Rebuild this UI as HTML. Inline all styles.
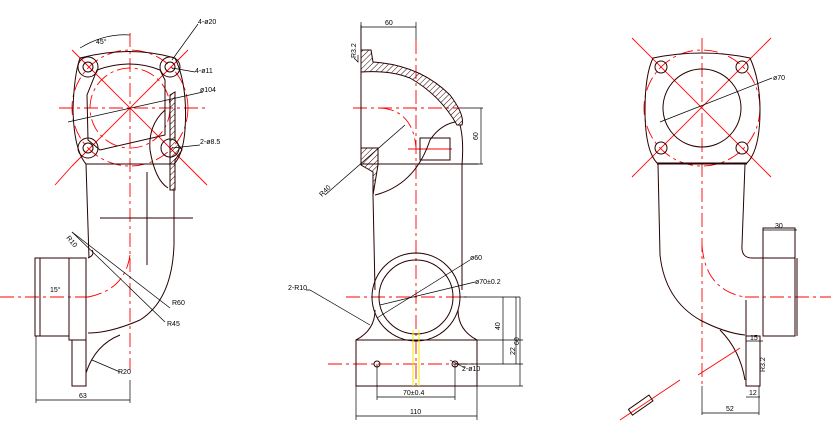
<!DOCTYPE html>
<html><head><meta charset="utf-8"><style>
html,body{margin:0;padding:0;background:#fff;width:831px;height:434px;overflow:hidden}
svg{display:block}
text{font-family:"Liberation Sans",sans-serif;font-size:7px;fill:#000}
.k{stroke:#2a0000;fill:none;stroke-width:1}
.d{stroke:#000;fill:none;stroke-width:0.7}
.r{stroke:#f00;fill:none;stroke-width:0.9;stroke-dasharray:14 4 3 4}
.rs{stroke:#f00;fill:none;stroke-width:0.9}
.h{stroke:#2a0000;fill:url(#hat);stroke-width:1}
</style></head><body>
<svg width="831" height="434" viewBox="0 0 831 434">
<defs><pattern id="hat" width="4" height="4" patternUnits="userSpaceOnUse" patternTransform="rotate(45)"><line x1="0" y1="0" x2="0" y2="4" stroke="#2a0000" stroke-width="1"/></pattern></defs>

<!-- LEFT VIEW -->
<line class="r" x1="130" y1="33" x2="130" y2="370"/>
<line class="r" x1="59" y1="108" x2="207" y2="108"/>
<line class="r" x1="0" y1="297" x2="90" y2="297"/>
<line class="rs" x1="72" y1="50" x2="188" y2="166"/>
<line class="rs" x1="188" y1="50" x2="72" y2="166"/>
<line class="rs" x1="55" y1="185" x2="72" y2="166"/>
<line class="rs" x1="188" y1="166" x2="207" y2="185"/>
<circle class="r" cx="130" cy="108" r="40"/>
<circle class="r" cx="130" cy="108" r="58"/>
<path class="k" d="M80,58 Q130,45 175,58 Q188,85 185,130 Q183,155 174,164 L86,164 Q74,150 73,110 Q74,75 80,58 Z"/>
<path class="k" d="M97,70 Q130,58 160,70 L165,80 L165,135 L100,150 L88,140 L87,95 Z"/>
<circle class="k" cx="88" cy="67" r="10"/><circle class="k" cx="88" cy="67" r="5"/>
<circle class="k" cx="170" cy="67" r="10"/><circle class="k" cx="170" cy="67" r="5"/>
<circle class="k" cx="88" cy="148" r="10"/><circle class="k" cx="88" cy="148" r="5"/>
<circle class="k" cx="170" cy="148" r="9"/>
<path class="h" d="M170,95 L175,92 L175,140 L182,150 L175,160 L175,190 L170,190 Z"/>
<path class="k" d="M165,110 Q148,125 150,150 Q155,180 168,188"/>
<path class="k" d="M86,164 L89,258 M174,190 L174,245 Q172,300 140,320 Q110,333 88,333"/>
<path class="k" d="M88,258 Q95,255 92,250"/>
<line class="k" x1="100" y1="218" x2="193" y2="218"/>
<line class="k" x1="147" y1="172" x2="147" y2="265"/>
<rect class="k" x="35" y="258" width="34" height="78"/>
<line class="k" x1="40" y1="258" x2="40" y2="336"/>
<rect class="k" x="69" y="258" width="17" height="82"/>
<rect class="k" x="72" y="340" width="14" height="46"/>
<path class="k" d="M86,373 Q95,345 120,335"/>
<path class="r" d="M88,297 Q125,290 130,255"/>
<path class="d" d="M36,400 L130,400 M36,336 L36,403 M130,380 L130,403"/>
<text x="79" y="398">63</text>
<path class="d" d="M80,48 Q105,33 130,35"/><text x="96" y="44">45°</text>
<line class="d" x1="68" y1="122" x2="203" y2="92"/><text x="200" y="92">ø104</text>
<line class="d" x1="172" y1="60" x2="198" y2="24"/><text x="198" y="24">4-ø20</text>
<line class="d" x1="172" y1="68" x2="195" y2="72"/><text x="195" y="73">4-ø11</text>
<line class="d" x1="172" y1="148" x2="200" y2="145"/><text x="200" y="144">2-ø8.5</text>
<line class="d" x1="72" y1="232" x2="170" y2="308"/><text x="172" y="305">R60</text>
<line class="d" x1="72" y1="232" x2="165" y2="322"/><text x="167" y="326">R45</text>
<line class="d" x1="92" y1="360" x2="120" y2="372"/><text x="118" y="374">R20</text>
<text x="66" y="238" transform="rotate(50 66 238)">R10</text>
<text x="50" y="292">15°</text>

<!-- MIDDLE VIEW -->
<line class="r" x1="416" y1="40" x2="416" y2="385"/>
<line class="r" x1="353" y1="108" x2="460" y2="108"/>
<line class="r" x1="346" y1="297" x2="470" y2="297"/>
<line class="r" x1="328" y1="364" x2="475" y2="364"/>
<line class="rs" x1="408" y1="149" x2="452" y2="149"/>
<path class="r" d="M380,108 Q413,110 416,148"/>
<path class="h" d="M361,50 L371,50 L373,62 Q420,65 450,95 Q465,115 462,125 L457,125 Q440,95 410,78 Q390,70 361,72 Z"/>
<path class="k" d="M361,25 L361,165 M460,125 Q464,140 462,165 L462,290 M373,195 L375,290"/>
<path class="h" d="M361,148 L378,148 L378,165 L373,195 L373,172 L361,165 Z"/>
<line class="k" x1="361" y1="164" x2="478" y2="164"/>
<rect class="k" x="420" y="138" width="30" height="22"/>
<path class="k" d="M455,122 Q440,125 430,140 Q415,185 375,195"/>
<circle class="k" cx="416" cy="297" r="44"/><circle class="k" cx="416" cy="297" r="37"/>
<path class="k" d="M375,310 Q375,330 356,340 M458,310 Q458,330 477,340"/>
<rect class="k" x="356" y="340" width="121" height="46"/>
<line style="stroke:#ee0;stroke-width:1" x1="413" y1="330" x2="413" y2="386"/>
<line style="stroke:#ee0;stroke-width:1" x1="419" y1="330" x2="419" y2="386"/>
<circle class="k" cx="377" cy="364" r="3"/><circle class="k" cx="455" cy="364" r="3"/>
<path class="d" d="M361,27 L416,27 M361,22 L361,30 M416,22 L416,40"/><text x="385" y="25">60</text>
<path class="d" d="M460,108 L483,108 M462,164 L483,164 M481,108 L481,164"/><text x="478" y="140" transform="rotate(-90 478 140)">60</text>
<path class="d" d="M377,364 L377,400 M455,364 L455,400 M377,397 L455,397"/><text x="403" y="395">70±0.4</text>
<path class="d" d="M356,386 L356,420 M477,386 L477,420 M356,416 L477,416"/><text x="410" y="414">110</text>
<path class="d" d="M460,297 L520,297 M477,340 L523,340 M455,364 L523,364 M477,386 L523,386 M503,297 L503,364 M520,297 L520,386 M516,364 L516,297"/>
<text x="500" y="330" transform="rotate(-90 500 330)">40</text>
<text x="515" y="355" transform="rotate(-90 515 355)">22</text>
<text x="519" y="345" transform="rotate(-90 519 345)">60</text>
<line class="d" x1="377" y1="318" x2="470" y2="260"/><text x="470" y="260">ø60</text>
<line class="d" x1="380" y1="305" x2="475" y2="282"/><text x="475" y="284">ø70±0.2</text>
<path class="d" d="M306,290 L310,290 L370,325"/><text x="288" y="290">2-R10</text>
<line class="d" x1="325" y1="195" x2="405" y2="125"/><text x="322" y="197" transform="rotate(-45 322 197)">R40</text>
<line class="d" x1="450" y1="360" x2="465" y2="368"/><text x="462" y="371">2-ø10</text>
<text transform="translate(356,58) rotate(-90)">R3.2</text>
<path class="d" d="M354,58 L358,62 L358,55"/>

<!-- RIGHT VIEW -->
<line class="r" x1="702" y1="38" x2="702" y2="385"/>
<line class="r" x1="745" y1="297" x2="831" y2="297"/>
<line class="rs" x1="632" y1="38" x2="771" y2="177"/>
<line class="rs" x1="771" y1="38" x2="632" y2="177"/>
<circle class="r" cx="702" cy="108" r="58"/>
<path class="k" d="M653,58 Q702,48 750,58 Q760,80 760,110 Q760,150 747,163 L657,163 Q645,150 645,110 Q645,75 653,58 Z"/>
<circle class="k" cx="702" cy="108" r="39"/>
<circle class="k" cx="661" cy="67" r="6"/><circle class="k" cx="742" cy="67" r="6"/>
<circle class="k" cx="661" cy="148" r="6"/><circle class="k" cx="742" cy="148" r="6"/>
<line class="k" x1="657" y1="164" x2="747" y2="164"/>
<path class="k" d="M658,164 L660,255 Q665,300 700,320 Q725,333 745,335 M745,164 L742,245 Q741,258 752,258 L795,258"/>
<path class="k" d="M720,330 Q740,350 745,380 M746,300 L746,386"/>
<path class="r" d="M702,245 Q705,290 745,297"/>
<rect class="k" x="763" y="228" width="32" height="108"/>
<line class="k" x1="797" y1="258" x2="797" y2="336"/>
<rect class="k" x="746" y="336" width="14" height="50"/>
<line class="rs" x1="698" y1="375" x2="740" y2="348"/>
<line class="rs" x1="620" y1="420" x2="680" y2="380"/>
<rect class="k" x="628" y="402" width="25" height="7" transform="rotate(-35 640 405)"/>
<line class="d" x1="660" y1="122" x2="772" y2="78"/><text x="773" y="80">ø70</text>
<path class="d" d="M763,230 L797,230"/><text x="775" y="228">30</text>
<path class="d" d="M702,386 L702,415 M759,386 L759,415 M702,413 L759,413"/><text x="726" y="411">52</text>
<path class="d" d="M746,397 L760,397"/><text x="749" y="395">12</text>
<path class="d" d="M746,341 L763,341"/><text x="750" y="340">15</text>
<text x="765" y="372" transform="rotate(-90 765 372)">R3.2</text>
</svg>
</body></html>
